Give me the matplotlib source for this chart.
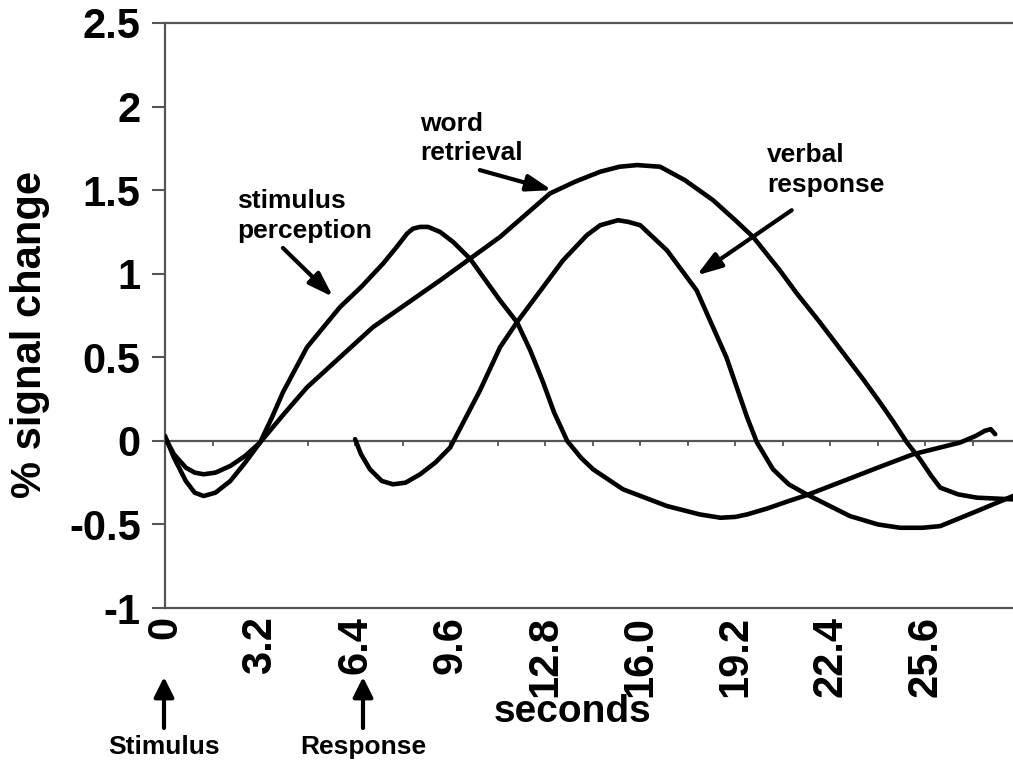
import matplotlib
matplotlib.use("Agg")
import matplotlib.pyplot as plt
from matplotlib.patches import FancyArrowPatch
import numpy as np

plt.rcParams['font.family'] = ['Liberation Sans', 'DejaVu Sans']
plt.rcParams['font.weight'] = 'bold'

# ---- data ----
stim_x = [0.0, 0.3, 0.7, 1.0, 1.3, 1.7, 2.2, 2.7, 3.2, 3.6, 3.97, 4.78, 5.89, 6.6, 7.34, 7.8,
          8.15, 8.35, 8.59, 8.86, 9.26, 9.7, 10.27, 11.28, 11.85, 12.3, 12.73, 13.1, 13.54,
          14.0, 14.41, 15.42, 16.9, 18.0, 18.7, 19.2, 19.6, 20.27, 21.0, 21.6, 23.06, 24.0,
          25.19, 26.77, 27.3, 27.6, 27.8, 27.95]
stim_y = [0.03, -0.10, -0.24, -0.31, -0.33, -0.31, -0.24, -0.13, -0.01, 0.14, 0.29, 0.56, 0.80,
          0.92, 1.06, 1.16, 1.24, 1.27, 1.28, 1.28, 1.25, 1.19, 1.09, 0.84, 0.71, 0.54, 0.35,
          0.17, 0.0, -0.10, -0.17, -0.29, -0.39, -0.44, -0.46, -0.455, -0.44, -0.405, -0.36,
          -0.325, -0.225, -0.16, -0.08, -0.01, 0.03, 0.06, 0.07, 0.04]

word_x = [0.0, 0.3, 0.7, 1.0, 1.3, 1.7, 2.2, 2.7, 3.2, 4.0, 4.78, 7.0, 9.26, 10.27, 11.28,
          12.96, 13.8, 14.65, 15.3, 15.9, 16.67, 17.5, 18.45, 19.2, 19.8, 20.7, 21.28, 22.0,
          22.73, 23.5, 24.07, 24.5, 24.98, 25.42, 25.8, 26.1, 26.7, 27.34, 28.55]
word_y = [0.02, -0.08, -0.16, -0.19, -0.20, -0.19, -0.15, -0.09, -0.01, 0.16, 0.32, 0.68, 0.96,
          1.09, 1.22, 1.48, 1.55, 1.61, 1.64, 1.65, 1.64, 1.56, 1.44, 1.32, 1.22, 1.02, 0.88,
          0.72, 0.55, 0.37, 0.23, 0.12, -0.01, -0.11, -0.21, -0.28, -0.32, -0.34, -0.35]

verb_x = [6.4, 6.6, 6.9, 7.3, 7.68, 8.1, 8.59, 9.1, 9.6, 10.1, 10.6, 11.28, 11.85, 13.4, 14.2,
          14.65, 15.25, 15.6, 16.0, 16.9, 17.9, 18.9, 19.6, 19.93, 20.47, 21.0, 21.6, 23.06,
          24.0, 24.75, 25.5, 26.1, 27.34, 28.55]
verb_y = [0.01, -0.08, -0.17, -0.24, -0.26, -0.25, -0.20, -0.13, -0.04, 0.13, 0.30, 0.56, 0.71,
          1.08, 1.23, 1.29, 1.32, 1.31, 1.29, 1.14, 0.90, 0.50, 0.14, -0.01, -0.17, -0.26,
          -0.32, -0.45, -0.50, -0.52, -0.52, -0.51, -0.42, -0.33]

xtick_vals = [0, 3.2, 6.4, 9.6, 12.8, 16.0, 19.2, 22.4, 25.6]
xtick_labels = ['0', '3.2', '6.4', '9.6', '12.8', '16.0', '19.2', '22.4', '25.6']
ytick_vals = [-1, -0.5, 0, 0.5, 1, 1.5, 2, 2.5]
ytick_labels = ['-1', '-0.5', '0', '0.5', '1', '1.5', '2', '2.5']
minor_step = 1.6

W, H = 1013, 766
fig = plt.figure(figsize=(W / 100, H / 100), dpi=100)
ax = fig.add_axes([165 / W, 1 - 608 / H, 1 - 165 / W, (608 - 23) / H])

lw = 3.3
for xs, ys in [(stim_x, stim_y), (word_x, word_y), (verb_x, verb_y)]:
    ax.plot(xs, ys, color='black', lw=lw, solid_capstyle='round', solid_joinstyle='round', zorder=3)

ax.set_xlim(0, 28.55)
ax.set_ylim(-1, 2.5)

spine_c = '#555555'
for s in ['left', 'top', 'bottom']:
    ax.spines[s].set_color(spine_c)
    ax.spines[s].set_linewidth(1.6)
ax.spines['right'].set_visible(False)

ax.set_yticks(ytick_vals)
ax.set_yticklabels(ytick_labels)
ax.set_xticks(xtick_vals)
ax.set_xticklabels(xtick_labels, rotation=90)
ax.tick_params(axis='y', direction='out', length=9.5, width=1.5, color=spine_c,
               labelsize=30, pad=8)
ax.tick_params(axis='x', length=0, labelsize=30, pad=6)
for t in ax.get_xticklabels() + ax.get_yticklabels():
    t.set_fontweight('bold')

# zero-crossing horizontal axis with small ticks
zero_ax = ax.secondary_xaxis((0 - (-1)) / 3.5)
zero_ax.set_xticks(np.arange(minor_step, 28.55, minor_step))
zero_ax.set_xticklabels([])
zero_ax.tick_params(direction='out', length=3.6, width=1.3, color=spine_c)
zero_ax.spines['bottom'].set_color(spine_c)
zero_ax.spines['bottom'].set_linewidth(1.6)

ax.set_ylabel('% signal change', fontsize=30, fontweight='bold', va='center')
ax.yaxis.set_label_coords(-0.159, 0.467)
ax.set_xlabel('seconds', fontsize=28, fontweight='bold', va='center')
ax.xaxis.set_label_coords((573 - 165) / 848, (608 - 712) / 585)

ann_fs = 19
arrow_kw = dict(arrowstyle='-|>,head_length=1.5,head_width=0.5', color='black', lw=3.0,
                shrinkA=0, shrinkB=0, mutation_scale=10)
ax.annotate('', xy=(5.66, 0.861), xytext=(3.97, 1.154), arrowprops=arrow_kw)
ax.text(2.42, 1.505, 'stimulus\nperception', fontsize=ann_fs, fontweight='bold',
        ha='left', va='top', linespacing=1.3)
ax.annotate('', xy=(13.03, 1.50), xytext=(10.6, 1.62), arrowprops=arrow_kw)
ax.text(8.59, 1.97, 'word\nretrieval', fontsize=ann_fs, fontweight='bold',
        ha='left', va='top', linespacing=1.3)
ax.annotate('', xy=(17.9, 0.99), xytext=(21.1, 1.38), arrowprops=arrow_kw)
ax.text(20.27, 1.78, 'verbal\nresponse', fontsize=ann_fs, fontweight='bold',
        ha='left', va='top', linespacing=1.3)

# event markers below the axis
for xpx, label in [(164, 'Stimulus'), (363, 'Response')]:
    fig.add_artist(FancyArrowPatch(
        (xpx / W, 1 - 728 / H), (xpx / W, 1 - 677 / H), transform=fig.transFigure,
        arrowstyle='-|>,head_length=1.2,head_width=0.6', color='black', lw=3.0,
        shrinkA=0, shrinkB=0, mutation_scale=10))
    fig.text(xpx / W, 1 - 747 / H, label, fontsize=19, fontweight='bold',
             ha='center', va='center')

fig.savefig('out.png', dpi=100)
